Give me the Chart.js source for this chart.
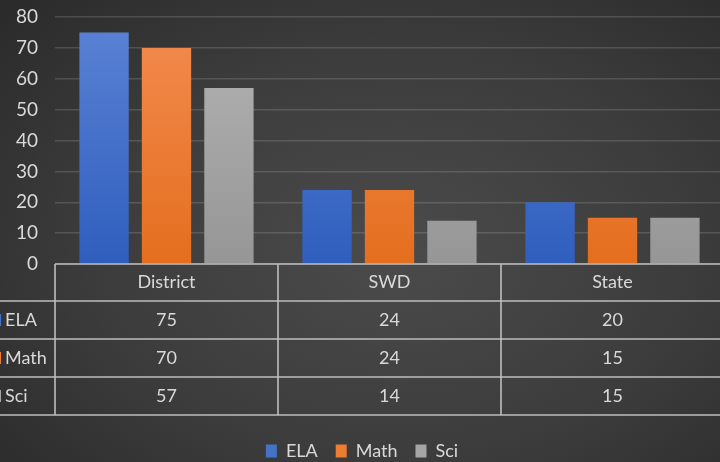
<!DOCTYPE html>
<html>
<head>
<meta charset="utf-8">
<script src="https://cdn.jsdelivr.net/npm/chart.js@4.4.1/dist/chart.umd.min.js"></script>
<style>
  html, body { margin: 0; padding: 0; overflow: hidden; }
  body {
    width: 720px; height: 462px;
    background: radial-gradient(ellipse 75% 80% at 55% 55%, #4b4b4b 0%, #3c3c3c 55%, #2a2a2a 100%);
  }
  #wrap { position: relative; width: 724px; height: 462px; }
</style>
</head>
<body>
<div id="wrap"><canvas id="chart"></canvas></div>
<script>
// === DATA ===
const categories = ["District", "SWD", "State"];
const seriesNames = ["ELA", "Math", "Sci"];
const elaValues = [75, 24, 20];
const mathValues = [70, 24, 15];
const sciValues = [57, 14, 15];
const yTicks = [0, 10, 20, 30, 40, 50, 60, 70, 80];

const FONT = "Lato, 'Open Sans', sans-serif";
const TEXT = "#d9d9d9";
const LINE = "#bdbdbd";

// solid colours for legend keys, gradient stops for bars
const solid = ["#4472c4", "#ed7d31", "#a5a5a5"];
const stops = [["#5b83d6", "#2f5ebd"], ["#f38c50", "#e46e1e"], ["#b4b4b4", "#969696"]];

function barFill(idx) {
  return (ctx) => {
    const area = ctx.chart.chartArea;
    if (!area) return solid[idx];
    const g = ctx.chart.ctx.createLinearGradient(0, area.top, 0, area.bottom);
    g.addColorStop(0, stops[idx][0]);
    g.addColorStop(1, stops[idx][1]);
    return g;
  };
}

// === DATA TABLE UNDER THE AXIS ===
const dataTable = {
  id: "dataTable",
  afterDraw(chart) {
    const { ctx, scales: { x }, chartArea } = chart;
    const rows = [elaValues, mathValues, sciValues];
    const top = chartArea.bottom;
    const rowH = [37, 38, 38, 38];
    const colW = x.width / categories.length;
    const left = x.left;
    const right = x.right;

    ctx.save();
    ctx.strokeStyle = LINE;
    ctx.lineWidth = 1.6;

    // horizontal lines
    let y = top;
    ctx.beginPath();
    ctx.moveTo(left, y); ctx.lineTo(right, y);
    const ys = [top];
    for (let r = 0; r < rowH.length; r++) {
      y += rowH[r];
      ys.push(y);
      ctx.moveTo(0, y); ctx.lineTo(right, y);
    }
    // vertical lines
    for (let c = 0; c < categories.length; c++) {
      const vx = left + c * colW;
      ctx.moveTo(vx, top); ctx.lineTo(vx, ys[ys.length - 1]);
    }
    ctx.stroke();

    ctx.fillStyle = TEXT;
    ctx.font = "18px " + FONT;
    ctx.textBaseline = "middle";
    ctx.textAlign = "center";
    categories.forEach((cat, i) => {
      const cx = x.getPixelForValue(i);
      ctx.fillText(cat, cx, (ys[0] + ys[1]) / 2);
      rows.forEach((vals, r) => {
        ctx.fillText(String(vals[i]), cx, (ys[r + 1] + ys[r + 2]) / 2);
      });
    });

    // row headers with legend keys (cut at the left edge)
    ctx.textAlign = "left";
    seriesNames.forEach((name, r) => {
      const cy = (ys[r + 1] + ys[r + 2]) / 2;
      ctx.fillStyle = solid[r];
      ctx.fillRect(-10, cy - 6, 11, 12);
      ctx.fillStyle = TEXT;
      ctx.fillText(name, 5, cy);
    });
    ctx.restore();
  }
};

// === CHART ===
const chart = new Chart(document.getElementById("chart"), {
  type: "bar",
  data: {
    labels: categories,
    datasets: [
      { label: seriesNames[0], data: elaValues, backgroundColor: barFill(0) },
      { label: seriesNames[1], data: mathValues, backgroundColor: barFill(1) },
      { label: seriesNames[2], data: sciValues, backgroundColor: barFill(2) }
    ]
  },
  options: {
    responsive: true,
    maintainAspectRatio: false,
    animation: false,
    layout: { padding: { top: 17, bottom: -8 } },
    datasets: { bar: { categoryPercentage: 0.84, barPercentage: 0.79 } },
    scales: {
      x: {
        grid: { display: false },
        border: { display: false },
        ticks: { display: false },
        afterFit: (s) => { s.height = 160; }
      },
      y: {
        min: 0,
        max: 80,
        afterBuildTicks: (s) => { s.ticks = yTicks.map(v => ({ value: v })); },
        afterFit: (s) => { s.width = 55; s.paddingTop = 0; s.paddingBottom = 0; },
        grid: { color: "rgba(255,255,255,0.14)", lineWidth: 1.5, drawTicks: false },
        border: { display: false },
        ticks: { color: TEXT, font: { size: 19, family: FONT }, padding: 17 }
      }
    },
    plugins: {
      tooltip: { enabled: false },
      legend: {
        position: "bottom",
        labels: {
          color: TEXT,
          font: { size: 18, family: FONT },
          boxWidth: 11,
          boxHeight: 13,
          padding: 18,
          generateLabels: (ch) => seriesNames.map((n, i) => ({
            text: n, fillStyle: solid[i], strokeStyle: solid[i], lineWidth: 0,
            fontColor: TEXT, datasetIndex: i, hidden: false
          }))
        }
      }
    }
  },
  plugins: [dataTable]
});
</script>
</body>
</html>
